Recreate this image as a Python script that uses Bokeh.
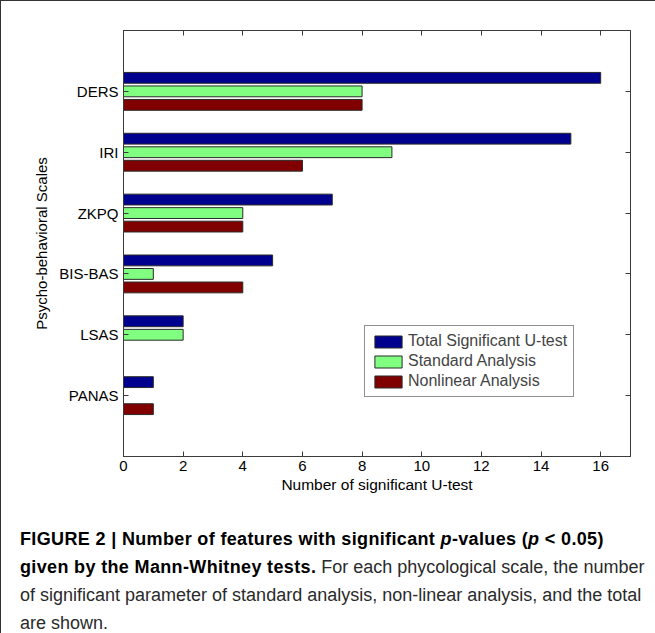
from bokeh.plotting import figure
from bokeh.models import (ColumnDataSource, Range1d, LinearAxis, FixedTicker,
                          Legend, LegendItem, Div)
from bokeh.layouts import column
from bokeh.transform import dodge
from bokeh.embed import file_html
from bokeh.resources import INLINE

# ---- data ----
scales = ["DERS", "IRI", "ZKPQ", "BIS-BAS", "LSAS", "PANAS"]
total_sig = [16, 15, 7, 5, 2, 1]
standard = [8, 9, 4, 1, 2, 0]
nonlinear = [8, 6, 4, 4, 0, 1]
x_ticks = [0, 2, 4, 6, 8, 10, 12, 14, 16]
series_names = ["Total Significant U-test", "Standard Analysis", "Nonlinear Analysis"]
series_colors = ["#00008F", "#80FF80", "#800000"]

ypos = list(range(len(scales), 0, -1))
src = ColumnDataSource(dict(scale=scales, y=ypos, total=total_sig,
                            std=standard, nl=nonlinear))

FONT = "Liberation Sans"
AX = "#3a3a3a"

p = figure(width=645, height=498, x_range=Range1d(0, 17), y_range=Range1d(0, 7),
           output_backend="svg", toolbar_location=None,
           min_border_left=122, min_border_right=16, min_border_top=28,
           min_border_bottom=44)
p.xgrid.visible = False
p.ygrid.visible = False
p.outline_line_color = AX
p.background_fill_color = "white"
p.border_fill_color = "white"

bar_h = 0.178
off = 0.222
renderers = []
for col, dy, color in zip(["total", "std", "nl"], [off, 0, -off], series_colors):
    r = p.hbar(y=dodge("y", dy), left=0, right=col, height=bar_h, source=src,
               fill_color=color, line_color="#2a2a2a", line_width=1)
    renderers.append(r)

# bottom axis
xa = p.xaxis[0]
xa.ticker = FixedTicker(ticks=x_ticks)
xa.axis_label = "Number of significant U-test"
# left axis
ya = p.yaxis[0]
ya.ticker = FixedTicker(ticks=ypos)
ya.major_label_overrides = {y: s for y, s in zip(ypos, scales)}
ya.axis_label = "Psycho-behavioral Scales"

top = LinearAxis(ticker=FixedTicker(ticks=x_ticks),
                 major_label_overrides={t: "" for t in x_ticks})
right = LinearAxis(ticker=FixedTicker(ticks=ypos),
                   major_label_overrides={t: "" for t in ypos})
p.add_layout(top, "above")
p.add_layout(right, "right")

for ax in [xa, ya, top, right]:
    ax.major_tick_in = 5
    ax.major_tick_out = 0
    ax.minor_tick_in = 0
    ax.minor_tick_out = 0
    ax.axis_line_color = AX
    ax.major_tick_line_color = AX
    ax.major_label_text_font = FONT
    ax.major_label_text_font_size = "15px"
    ax.major_label_text_color = "black"
    ax.axis_label_text_font = FONT
    ax.axis_label_text_font_style = "normal"
    ax.axis_label_text_color = "black"
xa.major_label_standoff = 4
xa.axis_label_text_font_size = "15.5px"
xa.axis_label_standoff = 2
ya.major_label_standoff = 5
ya.axis_label_text_font_size = "15px"
ya.axis_label_standoff = 6

legend = Legend(items=[LegendItem(label=n, renderers=[r]) for n, r in zip(series_names, renderers)],
                location=(241, 59))
legend.border_line_color = "#222"
legend.border_line_width = 1
legend.background_fill_color = "white"
legend.background_fill_alpha = 1
legend.label_text_font = FONT
legend.label_text_font_size = "16px"
legend.glyph_width = 34
legend.glyph_height = 15
legend.label_height = 15
legend.spacing = 2
legend.padding = 6
legend.label_standoff = 3
legend.margin = 0
p.add_layout(legend)

caption_html = (
    '<div style="font-family: \'Liberation Sans\', Arial, sans-serif; font-size: 18px; '
    'line-height: 28px; color: #2a2a2a; padding-left: 14px; padding-top: 20px;">'
    '<b style="letter-spacing: 0.35px; color: #000;">FIGURE 2 | Number of features with significant '
    '<i>p</i>-values (<i>p</i> &lt; 0.05)</b><br>'
    '<b style="letter-spacing: 0.35px; color: #000;">given by the Mann-Whitney tests.</b> '
    'For each phycological scale, the number<br>'
    'of significant parameter of standard analysis, non-linear analysis, and the total<br>'
    'are shown.</div>'
)
cap = Div(text=caption_html, width=645, height=133)

layout = column(p, cap, styles={"border-left": "1px solid #333", "border-top": "1px solid #333",
                                "padding-top": "1px", "background": "white"})

open("out.html", "w").write(file_html(layout, INLINE))
